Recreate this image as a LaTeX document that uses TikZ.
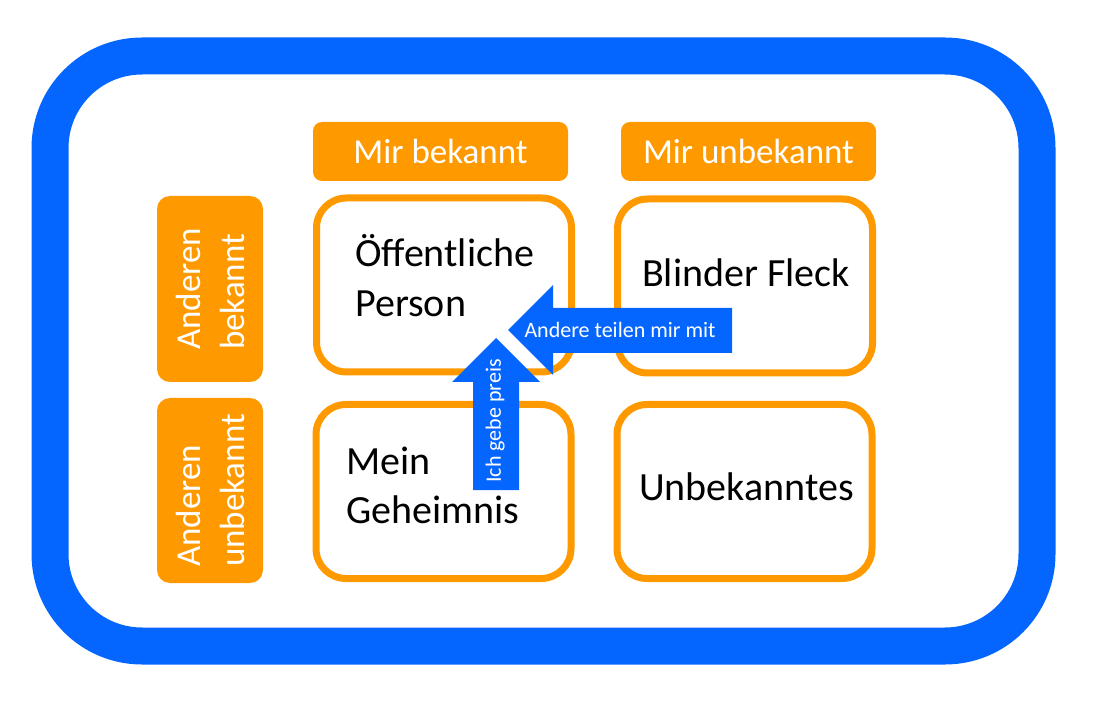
\documentclass[tikz,border=0pt]{standalone}
\usepackage{fontspec}
\setmainfont{Carlito}
\usepackage{tikz}
\definecolor{joorange}{RGB}{255,153,0}
\definecolor{joblue}{RGB}{5,102,255}

\begin{document}
\begin{tikzpicture}[x=1pt,y=1pt,yscale=-1,
  frame/.style={draw=joblue, line width=37pt, rounded corners=92pt, minimum width=987pt, minimum height=590pt},
  headbox/.style={fill=joorange, rounded corners=9pt, minimum width=255pt, minimum height=59pt, inner sep=0pt, text=white, font=\fontsize{35}{44}\selectfont},
  sidebox/.style={fill=joorange, rounded corners=13pt, rotate=90, minimum height=106pt, inner sep=0pt, align=left, text=white, font=\fontsize{35}{44}\selectfont},
  cellbox/.style={draw=joorange, line width=7pt, rounded corners=30pt, minimum width=255pt, minimum height=174pt},
  celltext/.style={anchor=base west, inner sep=0pt, font=\fontsize{40}{49}\selectfont},
  blockarrow/.style={fill=joblue},
  arrowtext/.style={inner sep=0pt, text=white, font=\fontsize{22}{26}\selectfont}]
\useasboundingbox (0,0) rectangle (1093,711);

% outer frame
\node[frame] (frame) at (543.5,351) {};

% column heads
\node[headbox] (known) at (440.5,151.5) {Mir bekannt};
\node[headbox] (unknown) at (748.5,151.5) {Mir unbekannt};

% row heads
\node[sidebox, minimum width=186pt] (others) at (210,289) {Anderen\\bekannt};
\node[sidebox, minimum width=185pt] (notothers) at (210,490.5) {Anderen\\unbekannt};

% the four windows
\node[cellbox] (public) at (444,285) {};
\node[cellbox] (blind) at (745,286) {};
\node[cellbox] (secret) at (443.5,491.5) {};
\node[cellbox] (unknownarea) at (744.5,491.5) {};

% Text Node
\node[celltext] (publicA) at (355,267) {Öffentliche};
\node[celltext] (publicB) at (355,317) {Person};
% Text Node
\node[celltext] (blindA) at (642,287) {Blinder Fleck};
% Text Node
\node[celltext] (secretA) at (346,474) {Mein};
\node[celltext] (secretB) at (346,523) {Geheimnis};
% Text Node
\node[celltext] (unknownA) at (639,500) {Unbekanntes};

% feedback arrow
\fill[blockarrow] (508,330) -- (553,285) -- (553,308) -- (732,308) -- (732,353) -- (553,353) -- (553,375) -- cycle;
\node[arrowtext] (feedback) at (620,330) {Andere teilen mir mit};

% disclosure arrow
\fill[blockarrow] (496,338) -- (540,382) -- (519,382) -- (519,490) -- (473,490) -- (473,382) -- (452,382) -- cycle;
\node[arrowtext, rotate=90] (disclose) at (495,421) {Ich gebe preis};
\end{tikzpicture}
\end{document}
